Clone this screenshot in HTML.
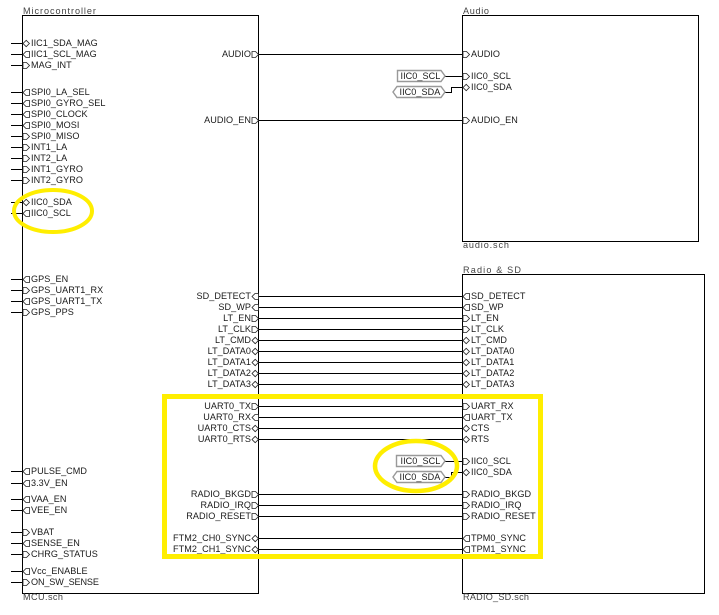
<!DOCTYPE html>
<html>
<head>
<meta charset="utf-8">
<style>
html,body{margin:0;padding:0;background:#fff;width:719px;height:615px;overflow:hidden}
svg{display:block}
text{font-family:"Liberation Sans",sans-serif;font-size:9.1px;fill:#1a1a1a;letter-spacing:.05px}
.r{text-anchor:end}
.g{fill:#444}
.w{stroke:#000;stroke-width:1;fill:none}
.p{stroke:#222;stroke-width:.8;fill:#fff}
.h{stroke:#999;stroke-width:1.4;fill:#fff}
.y{stroke:#ffee00;fill:none}
</style>
</head>
<body>
<svg width="719" height="615" viewBox="0 0 719 615" xmlns="http://www.w3.org/2000/svg">
<defs>
<path id="I" class="p" d="M0,-3H3.5L6.5,0L3.5,3H0Z"/>
<path id="O" class="p" d="M0,0L3,-3H6.5V3H3Z"/>
<path id="D" class="p" d="M0,0L3.2,-3.2L6.4,0L3.2,3.2Z"/>
</defs>

<!-- sheet boxes -->
<rect class="w" x="22.5" y="15.5" width="236" height="578"/>
<rect class="w" x="462.5" y="15.5" width="236" height="226"/>
<rect class="w" x="462.5" y="274.5" width="242" height="319"/>

<!-- wires -->
<path class="w" d="M11,43.5H22M11,54.5H22M11,65.5H22M11,92.5H22M11,103.5H22M11,114.5H22M11,125.5H22M11,136.5H22M11,147.5H22M11,158.5H22M11,169.5H22M11,180.5H22M11,202.5H22M11,213.5H22M11,279.5H22M11,290.5H22M11,301.5H22M11,312.5H22M11,471.5H22M11,483.5H22M11,499.5H22M11,510.5H22M11,532.5H22M11,543.5H22M11,554.5H22M11,571.5H22M11,582.5H22"/>
<path class="w" d="M258,54.5H462M258,120.5H462M258,296.5H462M258,307.5H462M258,318.5H462M258,329.5H462M258,340.5H462M258,351.5H462M258,362.5H462M258,373.5H462M258,384.5H462M258,406.5H462M258,417.5H462M258,428.5H462M258,439.5H462M258,494.5H462M258,505.5H462M258,516.5H462M258,538.5H462M258,549.5H462"/>
<path class="w" d="M445,76.5H462M445,92.5H451.5V87.5H462M445,461.5H462M445,477.5H451.5V472.5H462"/>

<!-- left pins of MCU -->
<use href="#D" x="23" y="43.5"/><use href="#O" x="23" y="54.5"/><use href="#I" x="23" y="65.5"/>
<use href="#O" x="23" y="92.5"/><use href="#O" x="23" y="103.5"/><use href="#O" x="23" y="114.5"/><use href="#O" x="23" y="125.5"/>
<use href="#I" x="23" y="136.5"/><use href="#I" x="23" y="147.5"/><use href="#I" x="23" y="158.5"/><use href="#I" x="23" y="169.5"/><use href="#I" x="23" y="180.5"/>
<use href="#D" x="23" y="202.5"/><use href="#O" x="23" y="213.5"/>
<use href="#O" x="23" y="279.5"/><use href="#I" x="23" y="290.5"/><use href="#O" x="23" y="301.5"/><use href="#I" x="23" y="312.5"/>
<use href="#O" x="23" y="471.5"/><use href="#O" x="23" y="483.5"/><use href="#O" x="23" y="499.5"/><use href="#O" x="23" y="510.5"/>
<use href="#I" x="23" y="532.5"/><use href="#O" x="23" y="543.5"/><use href="#I" x="23" y="554.5"/><use href="#O" x="23" y="571.5"/><use href="#I" x="23" y="582.5"/>

<!-- right pins of MCU -->
<use href="#I" x="252" y="54.5"/><use href="#I" x="252" y="120.5"/>
<use href="#O" x="252" y="296.5"/><use href="#O" x="252" y="307.5"/><use href="#I" x="252" y="318.5"/><use href="#I" x="252" y="329.5"/>
<use href="#D" x="252" y="340.5"/><use href="#D" x="252" y="351.5"/><use href="#D" x="252" y="362.5"/><use href="#D" x="252" y="373.5"/><use href="#D" x="252" y="384.5"/>
<use href="#I" x="252" y="406.5"/><use href="#O" x="252" y="417.5"/><use href="#D" x="252" y="428.5"/><use href="#D" x="252" y="439.5"/>
<use href="#I" x="252" y="494.5"/><use href="#I" x="252" y="505.5"/><use href="#I" x="252" y="516.5"/><use href="#D" x="252" y="538.5"/><use href="#D" x="252" y="549.5"/>

<!-- pins on Audio / Radio -->
<use href="#I" x="463" y="54.5"/><use href="#I" x="463" y="76.5"/><use href="#D" x="463" y="87.5"/><use href="#I" x="463" y="120.5"/>
<use href="#O" x="463" y="296.5"/><use href="#O" x="463" y="307.5"/><use href="#I" x="463" y="318.5"/><use href="#I" x="463" y="329.5"/>
<use href="#D" x="463" y="340.5"/><use href="#D" x="463" y="351.5"/><use href="#D" x="463" y="362.5"/><use href="#D" x="463" y="373.5"/><use href="#D" x="463" y="384.5"/>
<use href="#I" x="463" y="406.5"/><use href="#O" x="463" y="417.5"/><use href="#D" x="463" y="428.5"/><use href="#D" x="463" y="439.5"/>
<use href="#I" x="463" y="461.5"/><use href="#D" x="463" y="472.5"/>
<use href="#I" x="463" y="494.5"/><use href="#I" x="463" y="505.5"/><use href="#I" x="463" y="516.5"/><use href="#O" x="463" y="538.5"/><use href="#O" x="463" y="549.5"/>

<!-- hierarchical labels -->
<path class="h" d="M397.5,70.5H441L445,76L441,81.5H397.5Z"/>
<path class="h" d="M397,86.5H441L445,92L441,97.5H397L393,92Z"/>
<path class="h" d="M396.5,455.5H441L445,461L441,466.5H396.5Z"/>
<path class="h" d="M397,471.5H441L445,477L441,482.5H397L393,477Z"/>
<text x="400.5" y="79">IIC0_SCL</text>
<text x="399.5" y="95">IIC0_SDA</text>
<text x="400.5" y="464">IIC0_SCL</text>
<text x="399.5" y="480">IIC0_SDA</text>

<!-- titles -->
<text class="g" x="23" y="14" textLength="73">Microcontroller</text>
<text class="g" x="463" y="14" textLength="26">Audio</text>
<text class="g" x="463" y="248" textLength="46">audio.sch</text>
<text class="g" x="463" y="273" textLength="58">Radio &amp; SD</text>
<text class="g" x="23" y="600" textLength="40">MCU.sch</text>
<text class="g" x="463" y="600" textLength="66">RADIO_SD.sch</text>

<!-- left labels -->
<text x="31" y="46">IIC1_SDA_MAG</text>
<text x="31" y="57">IIC1_SCL_MAG</text>
<text x="31" y="68">MAG_INT</text>
<text x="31" y="95">SPI0_LA_SEL</text>
<text x="31" y="106">SPI0_GYRO_SEL</text>
<text x="31" y="117">SPI0_CLOCK</text>
<text x="31" y="128">SPI0_MOSI</text>
<text x="31" y="139">SPI0_MISO</text>
<text x="31" y="150">INT1_LA</text>
<text x="31" y="161">INT2_LA</text>
<text x="31" y="172">INT1_GYRO</text>
<text x="31" y="183">INT2_GYRO</text>
<text x="31" y="205">IIC0_SDA</text>
<text x="31" y="216">IIC0_SCL</text>
<text x="31" y="282">GPS_EN</text>
<text x="31" y="293">GPS_UART1_RX</text>
<text x="31" y="304">GPS_UART1_TX</text>
<text x="31" y="315">GPS_PPS</text>
<text x="31" y="474">PULSE_CMD</text>
<text x="31" y="486">3.3V_EN</text>
<text x="31" y="502">VAA_EN</text>
<text x="31" y="513">VEE_EN</text>
<text x="31" y="535">VBAT</text>
<text x="31" y="546">SENSE_EN</text>
<text x="31" y="557">CHRG_STATUS</text>
<text x="31" y="574">Vcc_ENABLE</text>
<text x="31" y="585" textLength="68">ON_SW_SENSE</text>

<!-- MCU right labels -->
<text class="r" x="251" y="57">AUDIO</text>
<text class="r" x="251" y="123">AUDIO_EN</text>
<text class="r" x="251" y="299">SD_DETECT</text>
<text class="r" x="251" y="310">SD_WP</text>
<text class="r" x="251" y="321">LT_EN</text>
<text class="r" x="251" y="332">LT_CLK</text>
<text class="r" x="251" y="343">LT_CMD</text>
<text class="r" x="251" y="354">LT_DATA0</text>
<text class="r" x="251" y="365">LT_DATA1</text>
<text class="r" x="251" y="376">LT_DATA2</text>
<text class="r" x="251" y="387">LT_DATA3</text>
<text class="r" x="251" y="409">UART0_TX</text>
<text class="r" x="251" y="420">UART0_RX</text>
<text class="r" x="251" y="431">UART0_CTS</text>
<text class="r" x="251" y="442">UART0_RTS</text>
<text class="r" x="251" y="497">RADIO_BKGD</text>
<text class="r" x="251" y="508">RADIO_IRQ</text>
<text class="r" x="251" y="519">RADIO_RESET</text>
<text class="r" x="251" y="541">FTM2_CH0_SYNC</text>
<text class="r" x="251" y="552">FTM2_CH1_SYNC</text>

<!-- sheet labels -->
<text x="471" y="57">AUDIO</text>
<text x="471" y="79">IIC0_SCL</text>
<text x="471" y="90">IIC0_SDA</text>
<text x="471" y="123">AUDIO_EN</text>
<text x="471" y="299">SD_DETECT</text>
<text x="471" y="310">SD_WP</text>
<text x="471" y="321">LT_EN</text>
<text x="471" y="332">LT_CLK</text>
<text x="471" y="343">LT_CMD</text>
<text x="471" y="354">LT_DATA0</text>
<text x="471" y="365">LT_DATA1</text>
<text x="471" y="376">LT_DATA2</text>
<text x="471" y="387">LT_DATA3</text>
<text x="471" y="409">UART_RX</text>
<text x="471" y="420">UART_TX</text>
<text x="471" y="431">CTS</text>
<text x="471" y="442">RTS</text>
<text x="471" y="464">IIC0_SCL</text>
<text x="471" y="475">IIC0_SDA</text>
<text x="471" y="497">RADIO_BKGD</text>
<text x="471" y="508">RADIO_IRQ</text>
<text x="471" y="519">RADIO_RESET</text>
<text x="471" y="541">TPM0_SYNC</text>
<text x="471" y="552">TPM1_SYNC</text>

<!-- yellow highlights -->
<rect class="y" x="164.5" y="396.5" width="376" height="160" stroke-width="5"/>
<ellipse class="y" cx="53" cy="211" rx="39" ry="21" stroke-width="4"/>
<ellipse class="y" cx="416" cy="466" rx="41" ry="25" stroke-width="4.5"/>
</svg>
</body>
</html>
